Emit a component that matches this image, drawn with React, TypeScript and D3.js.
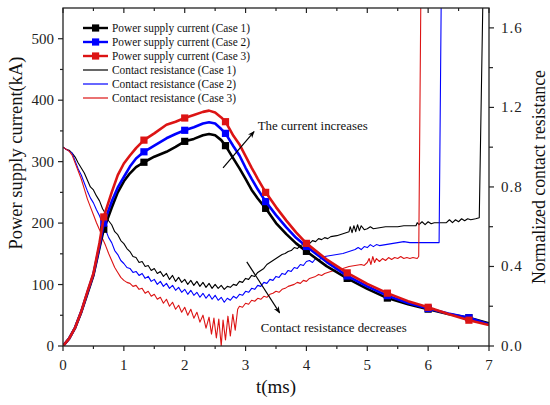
import { line as d3Line, scaleLinear } from "d3";

// time axis (ms) shared by the supply-current curves
const currentTimes = [
  0, 0.1, 0.2, 0.3, 0.4, 0.5, 0.6, 0.67, 0.8, 0.9, 1.0, 1.1, 1.2, 1.33, 1.5, 1.7, 1.85, 2.0, 2.15, 2.3,
  2.4, 2.5, 2.6, 2.67, 2.8, 2.9, 3.0, 3.1, 3.2, 3.33, 3.5, 3.67, 3.83, 4.0, 4.33, 4.67, 5.0, 5.33, 5.67,
  6.0, 6.33, 6.67, 7.0,
];
const currentCase1 = [
  0, 12, 30, 55, 85, 115, 160, 190, 225, 250, 268, 281, 291, 299, 308, 316, 324, 333, 337, 343,
  345, 343, 335, 326, 305, 289, 272, 254, 240, 224, 200, 182, 167, 154, 130, 110, 93, 78, 68,
  60, 52, 46, 37,
];
const currentCase2 = [
  0, 12, 30, 56, 87, 117, 163, 200, 235, 258, 275, 292, 305, 316, 326, 338, 345, 351, 356, 362,
  364, 362, 353, 346, 325, 310, 290, 272, 255, 235, 213, 193, 176, 162, 137, 114, 97, 82, 70,
  61, 53, 46, 35,
];
const currentCase3 = [
  0, 12, 30, 56, 88, 118, 168, 210, 250, 278, 297, 310, 322, 335, 346, 360, 365, 371, 376, 381,
  383, 380, 372, 365, 342, 328, 309, 290, 272, 250, 226, 204, 185, 167, 141, 119, 101, 86, 73,
  63, 52, 42, 34,
];
const markerTimes = [0.67, 1.33, 2.0, 2.67, 3.33, 4.0, 4.67, 5.33, 6.0, 6.67];

// normalized contact resistance, [t (ms), R]
const resistanceCase1: [number, number][] = [
  [0, 1.0], [0.05, 0.99], [0.1, 0.985], [0.15, 0.97], [0.2, 0.95], [0.25, 0.92], [0.3, 0.895],
  [0.35, 0.87], [0.4, 0.835], [0.45, 0.8], [0.5, 0.785], [0.55, 0.755], [0.6, 0.73], [0.65, 0.69],
  [0.7, 0.665], [0.75, 0.63], [0.8, 0.61], [0.85, 0.575], [0.9, 0.56], [0.95, 0.53], [1.0, 0.515],
  [1.05, 0.49], [1.1, 0.475], [1.15, 0.45], [1.2, 0.445], [1.25, 0.42], [1.3, 0.425], [1.35, 0.4],
  [1.4, 0.405], [1.45, 0.38], [1.5, 0.39], [1.55, 0.365], [1.6, 0.375], [1.65, 0.35], [1.7, 0.365],
  [1.75, 0.335], [1.8, 0.355], [1.85, 0.325], [1.9, 0.345], [1.95, 0.32], [2.0, 0.335], [2.05, 0.31],
  [2.1, 0.33], [2.15, 0.305], [2.2, 0.325], [2.25, 0.3], [2.3, 0.32], [2.35, 0.295], [2.4, 0.315],
  [2.45, 0.29], [2.5, 0.31], [2.55, 0.29], [2.6, 0.305], [2.65, 0.285], [2.7, 0.3], [2.75, 0.295],
  [2.8, 0.31], [2.85, 0.305], [2.9, 0.325], [2.95, 0.32], [3.0, 0.34], [3.05, 0.335], [3.1, 0.355],
  [3.15, 0.35], [3.2, 0.37], [3.25, 0.38], [3.3, 0.39], [3.35, 0.41], [3.4, 0.42], [3.45, 0.43],
  [3.5, 0.44], [3.55, 0.45], [3.6, 0.46], [3.65, 0.465], [3.7, 0.475], [3.75, 0.48], [3.8, 0.495],
  [3.85, 0.49], [3.9, 0.505], [3.95, 0.51], [4.0, 0.52], [4.05, 0.515], [4.1, 0.53], [4.15, 0.525],
  [4.2, 0.54], [4.25, 0.535], [4.3, 0.545], [4.35, 0.54], [4.4, 0.55], [4.5, 0.555], [4.6, 0.565],
  [4.7, 0.575], [4.72, 0.6], [4.75, 0.57], [4.78, 0.605], [4.81, 0.575], [4.84, 0.61], [4.87, 0.58],
  [4.9, 0.605], [4.95, 0.585], [5.0, 0.59], [5.05, 0.6], [5.1, 0.59], [5.2, 0.595], [5.3, 0.6],
  [5.5, 0.6], [5.6, 0.605], [5.8, 0.605], [5.82, 0.62], [5.85, 0.61], [5.9, 0.625], [5.95, 0.61],
  [6.0, 0.625], [6.05, 0.615], [6.1, 0.62], [6.3, 0.62], [6.35, 0.635], [6.4, 0.62], [6.45, 0.635],
  [6.5, 0.625], [6.55, 0.64], [6.6, 0.63], [6.65, 0.64], [6.7, 0.635], [6.78, 0.64], [6.84, 0.645],
  [6.9, 1.75],
];
const resistanceCase2: [number, number][] = [
  [0, 1.0], [0.05, 0.99], [0.1, 0.98], [0.15, 0.97], [0.2, 0.93], [0.25, 0.89], [0.3, 0.86],
  [0.35, 0.82], [0.4, 0.78], [0.45, 0.745], [0.5, 0.72], [0.55, 0.685], [0.6, 0.655], [0.65, 0.615],
  [0.7, 0.585], [0.75, 0.545], [0.8, 0.52], [0.85, 0.48], [0.9, 0.46], [0.95, 0.43], [1.0, 0.415],
  [1.05, 0.395], [1.1, 0.39], [1.15, 0.37], [1.2, 0.375], [1.25, 0.355], [1.3, 0.365], [1.35, 0.34],
  [1.4, 0.35], [1.45, 0.325], [1.5, 0.335], [1.55, 0.31], [1.6, 0.325], [1.65, 0.3], [1.7, 0.315],
  [1.75, 0.29], [1.8, 0.305], [1.85, 0.28], [1.9, 0.295], [1.95, 0.27], [2.0, 0.285], [2.05, 0.26],
  [2.1, 0.28], [2.15, 0.255], [2.2, 0.27], [2.25, 0.245], [2.3, 0.265], [2.35, 0.24], [2.4, 0.26],
  [2.45, 0.235], [2.5, 0.255], [2.55, 0.23], [2.6, 0.245], [2.65, 0.22], [2.7, 0.24], [2.75, 0.23],
  [2.8, 0.25], [2.85, 0.24], [2.9, 0.26], [2.95, 0.255], [3.0, 0.275], [3.05, 0.27], [3.1, 0.29],
  [3.15, 0.285], [3.2, 0.305], [3.25, 0.3], [3.3, 0.32], [3.35, 0.315], [3.4, 0.335], [3.45, 0.33],
  [3.5, 0.35], [3.55, 0.345], [3.6, 0.365], [3.65, 0.36], [3.7, 0.38], [3.75, 0.375], [3.8, 0.395],
  [3.85, 0.39], [3.9, 0.41], [3.95, 0.405], [4.0, 0.425], [4.05, 0.43], [4.1, 0.42], [4.15, 0.44],
  [4.2, 0.43], [4.25, 0.445], [4.3, 0.45], [4.4, 0.455], [4.5, 0.46], [4.6, 0.465], [4.7, 0.475],
  [4.75, 0.48], [4.8, 0.485], [4.85, 0.495], [4.9, 0.485], [4.95, 0.5], [5.0, 0.495], [5.05, 0.51],
  [5.1, 0.5], [5.15, 0.51], [5.2, 0.505], [5.3, 0.51], [5.4, 0.515], [5.5, 0.52], [5.6, 0.525],
  [5.7, 0.52], [6.18, 0.52], [6.215, 1.75],
];
const resistanceCase3: [number, number][] = [
  [0, 1.0], [0.05, 0.99], [0.1, 0.98], [0.15, 0.96], [0.2, 0.92], [0.25, 0.88], [0.3, 0.84],
  [0.35, 0.79], [0.4, 0.74], [0.45, 0.7], [0.5, 0.66], [0.55, 0.62], [0.6, 0.585], [0.65, 0.54],
  [0.7, 0.505], [0.75, 0.465], [0.8, 0.43], [0.85, 0.395], [0.9, 0.37], [0.95, 0.345], [1.0, 0.33],
  [1.05, 0.32], [1.1, 0.315], [1.15, 0.3], [1.2, 0.305], [1.25, 0.285], [1.3, 0.29], [1.35, 0.265],
  [1.4, 0.275], [1.45, 0.25], [1.5, 0.26], [1.55, 0.235], [1.6, 0.245], [1.65, 0.215], [1.7, 0.235],
  [1.75, 0.2], [1.8, 0.22], [1.85, 0.185], [1.9, 0.205], [1.95, 0.17], [2.0, 0.195], [2.05, 0.155],
  [2.1, 0.185], [2.15, 0.14], [2.2, 0.17], [2.25, 0.12], [2.3, 0.155], [2.35, 0.09], [2.4, 0.145],
  [2.44, 0.06], [2.48, 0.14], [2.52, 0.04], [2.56, 0.135], [2.6, 0.0], [2.63, 0.13], [2.67, 0.03],
  [2.71, 0.15], [2.75, 0.05], [2.79, 0.16], [2.83, 0.08], [2.87, 0.185], [2.9, 0.2], [2.95, 0.195],
  [3.0, 0.215], [3.05, 0.21], [3.1, 0.23], [3.15, 0.225], [3.2, 0.24], [3.25, 0.235], [3.3, 0.25],
  [3.35, 0.245], [3.4, 0.26], [3.45, 0.265], [3.5, 0.275], [3.55, 0.27], [3.6, 0.285], [3.65, 0.29],
  [3.7, 0.3], [3.75, 0.305], [3.8, 0.31], [3.85, 0.32], [3.9, 0.315], [3.95, 0.33], [4.0, 0.325],
  [4.05, 0.34], [4.1, 0.345], [4.15, 0.35], [4.2, 0.36], [4.25, 0.355], [4.3, 0.365], [4.35, 0.37],
  [4.4, 0.375], [4.45, 0.38], [4.5, 0.385], [4.6, 0.39], [4.7, 0.4], [4.8, 0.405], [4.9, 0.41],
  [4.95, 0.405], [5.0, 0.42], [5.03, 0.44], [5.06, 0.41], [5.09, 0.45], [5.12, 0.42], [5.15, 0.44],
  [5.2, 0.425], [5.25, 0.44], [5.3, 0.43], [5.35, 0.445], [5.4, 0.435], [5.45, 0.445], [5.5, 0.44],
  [5.55, 0.45], [5.6, 0.44], [5.65, 0.445], [5.7, 0.44], [5.75, 0.445], [5.82, 0.44], [5.845, 0.45],
  [5.88, 1.75],
];

const xTicks = [0, 1, 2, 3, 4, 5, 6, 7];
const xMinorTicks = [0.5, 1.5, 2.5, 3.5, 4.5, 5.5, 6.5];
const leftTicks = [0, 100, 200, 300, 400, 500];
const leftMinorTicks = [50, 150, 250, 350, 450];
const rightTicks = [0, 0.4, 0.8, 1.2, 1.6];
const rightMinorTicks = [0.2, 0.6, 1.0, 1.4];

const legendLabels = [
  "Power supply current (Case 1)",
  "Power supply current (Case 2)",
  "Power supply current (Case 3)",
  "Contact resistance (Case 1)",
  "Contact resistance (Case 2)",
  "Contact resistance (Case 3)",
];
const caseColors = ["#000000", "#0000ff", "#dc1414"];

// annotations in data units: [t0, I0, t1, I1]
const increaseArrow = [2.63, 290, 3.14, 349];
const decreaseArrow = [3.02, 137, 3.56, 54];

const W = 550;
const H = 405;
const margin = { top: 8, right: 61, bottom: 59, left: 63 };
const font = "'Liberation Serif', 'Times New Roman', serif";
const axisColor = "#222";

export default function App() {
  const x = scaleLinear().domain([0, 7]).range([margin.left, W - margin.right]);
  const yL = scaleLinear().domain([0, 550]).range([H - margin.bottom, margin.top]);
  const yR = scaleLinear().domain([0, 1.7]).range([H - margin.bottom, margin.top]);
  const x0 = margin.left;
  const x1 = W - margin.right;
  const y0 = H - margin.bottom;
  const y1 = margin.top;

  const currentLine = d3Line<number>()
    .x((_, i) => x(currentTimes[i]))
    .y((d) => yL(d));
  const resLine = d3Line<[number, number]>()
    .x((d) => x(d[0]))
    .y((d) => yR(d[1]));

  const currents = [currentCase1, currentCase2, currentCase3];
  const resistances = [resistanceCase1, resistanceCase2, resistanceCase3];
  const markerIdx = currentTimes
    .map((t, i) => (markerTimes.includes(t) ? i : -1))
    .filter((i) => i >= 0);

  const arrow = (a: number[], id: string) => (
    <line
      key={id}
      x1={x(a[0])}
      y1={yL(a[1])}
      x2={x(a[2])}
      y2={yL(a[3])}
      stroke="#000"
      strokeWidth={1.2}
      markerEnd="url(#arrowHead)"
    />
  );

  return (
    <svg
      width={W}
      height={H}
      style={{ position: "fixed", left: 0, top: 0, background: "#fff" }}
      fontFamily={font}
    >
      <defs>
        <clipPath id="plotClip">
          <rect x={x0} y={y1} width={x1 - x0} height={y0 - y1} />
        </clipPath>
        <marker
          id="arrowHead"
          viewBox="0 0 10 10"
          refX={9}
          refY={5}
          markerWidth={7}
          markerHeight={7}
          orient="auto"
          markerUnits="userSpaceOnUse"
        >
          <path d="M0,1 L10,5 L0,9 L3,5 Z" fill="#000" />
        </marker>
      </defs>

      <g clipPath="url(#plotClip)">
        {resistances.map((r, i) => (
          <path
            key={`r${i}`}
            d={resLine(r) ?? ""}
            fill="none"
            stroke={caseColors[i]}
            strokeWidth={1.1}
            strokeLinejoin="round"
          />
        ))}
        {currents.map((c, i) => (
          <g key={`c${i}`}>
            <path
              d={currentLine(c) ?? ""}
              fill="none"
              stroke={caseColors[i]}
              strokeWidth={2.6}
              strokeLinejoin="round"
            />
            {markerIdx.map((j) => (
              <rect
                key={j}
                x={x(currentTimes[j]) - 3.6}
                y={yL(c[j]) - 3.6}
                width={7.2}
                height={7.2}
                fill={caseColors[i]}
              />
            ))}
          </g>
        ))}
      </g>

      {/* frame */}
      <rect x={x0} y={y1} width={x1 - x0} height={y0 - y1} fill="none" stroke={axisColor} strokeWidth={1.3} />

      {/* bottom + top ticks */}
      {xTicks.map((t) => (
        <g key={`xt${t}`}>
          <line x1={x(t)} x2={x(t)} y1={y0} y2={y0 + 5} stroke={axisColor} strokeWidth={1.2} />
          <line x1={x(t)} x2={x(t)} y1={y1} y2={y1 + 5} stroke={axisColor} strokeWidth={1.2} />
          <text x={x(t)} y={y0 + 24} textAnchor="middle" fontSize={15} fill="#222">
            {t}
          </text>
        </g>
      ))}
      {xMinorTicks.map((t) => (
        <g key={`xm${t}`}>
          <line x1={x(t)} x2={x(t)} y1={y0} y2={y0 + 3} stroke={axisColor} strokeWidth={1.2} />
          <line x1={x(t)} x2={x(t)} y1={y1} y2={y1 + 3} stroke={axisColor} strokeWidth={1.2} />
        </g>
      ))}

      {/* left axis */}
      {leftTicks.map((v) => (
        <g key={`lt${v}`}>
          <line x1={x0 - 5} x2={x0} y1={yL(v)} y2={yL(v)} stroke={axisColor} strokeWidth={1.2} />
          <text x={x0 - 9} y={yL(v) + 5} textAnchor="end" fontSize={15} fill="#222">
            {v}
          </text>
        </g>
      ))}
      {leftMinorTicks.map((v) => (
        <line key={`lm${v}`} x1={x0 - 3} x2={x0} y1={yL(v)} y2={yL(v)} stroke={axisColor} strokeWidth={1.2} />
      ))}

      {/* right axis */}
      {rightTicks.map((v) => (
        <g key={`rt${v}`}>
          <line x1={x1} x2={x1 + 5} y1={yR(v)} y2={yR(v)} stroke={axisColor} strokeWidth={1.2} />
          <text x={x1 + 12} y={yR(v) + 5} textAnchor="start" fontSize={15} letterSpacing={1} fill="#222">
            {v.toFixed(1)}
          </text>
        </g>
      ))}
      {rightMinorTicks.map((v) => (
        <line key={`rm${v}`} x1={x1} x2={x1 + 4} y1={yR(v)} y2={yR(v)} stroke={axisColor} strokeWidth={1.2} />
      ))}

      {/* axis titles */}
      <text x={(x0 + x1) / 2} y={393} textAnchor="middle" fontSize={19} fill="#111">
        t(ms)
      </text>
      <text
        transform={`translate(22,153) rotate(-90)`}
        textAnchor="middle"
        fontSize={18}
        textLength={193}
        lengthAdjust="spacingAndGlyphs"
        fill="#111"
      >
        Power supply current(kA)
      </text>
      <text
        transform={`translate(545,177) rotate(-90)`}
        textAnchor="middle"
        fontSize={18}
        textLength={214}
        lengthAdjust="spacingAndGlyphs"
        fill="#111"
      >
        Normalized contact resistance
      </text>

      {/* annotations */}
      {arrow(increaseArrow, "inc")}
      {arrow(decreaseArrow, "dec")}
      <text x={x(3.2)} y={yL(352)} fontSize={13.5} fill="#111" textLength={110} lengthAdjust="spacingAndGlyphs">
        The current increases
      </text>
      <text x={x(3.25)} y={yL(23)} fontSize={13.5} fill="#111" textLength={146} lengthAdjust="spacingAndGlyphs">
        Contact resistance decreases
      </text>

      {/* legend */}
      {legendLabels.map((label, i) => {
        const cy = 28 + i * 14;
        const color = caseColors[i % 3];
        const isCurrent = i < 3;
        return (
          <g key={label}>
            <line x1={83} x2={108} y1={cy} y2={cy} stroke={color} strokeWidth={isCurrent ? 2.4 : 1.2} />
            {isCurrent && <rect x={92} y={cy - 3.6} width={7.2} height={7.2} fill={color} />}
            <text x={112} y={cy + 4} fontSize={11.5} fill="#111" textLength={isCurrent ? 138 : 124} lengthAdjust="spacingAndGlyphs">
              {label}
            </text>
          </g>
        );
      })}
    </svg>
  );
}
